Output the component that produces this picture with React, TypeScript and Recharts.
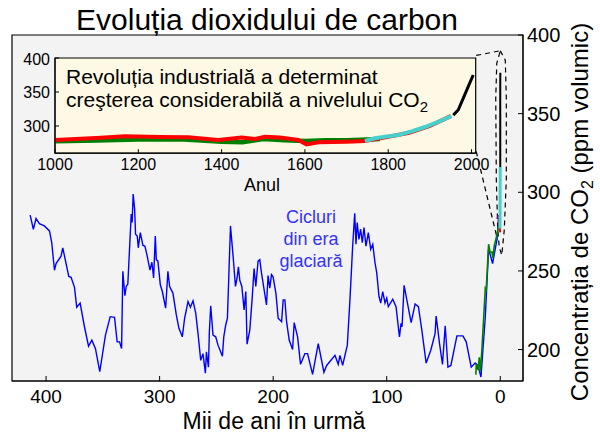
import { LineChart, Line, XAxis, YAxis, ReferenceArea } from "recharts";

const FONT = "'Liberation Sans', Arial, Helvetica, sans-serif";

// main chart: [mii de ani în urmă, ppm]
const vostok = [
  [414, 285.5], [411.2, 276.5], [408.8, 283.3], [405.9, 280], [401.5, 278.6], [397, 275.4],
  [395, 268], [392.6, 250.4], [391.2, 254.7], [386.8, 259.4], [385.3, 264.7], [380, 246.5],
  [378, 245.9], [375, 239.7], [373, 226.9], [370, 229.5], [366.2, 214.5], [362.6, 202.1],
  [359.7, 206], [356.5, 200.6], [352.7, 185.9], [347.7, 209.2], [343.5, 220.9], [339.7, 220.5],
  [337.4, 204.9], [335.3, 204.9], [333.5, 200.6], [332.4, 249.7], [330.6, 234.2], [329.4, 240.1],
  [328, 241.6], [325, 286.1], [324.2, 280.8], [323.3, 298.9], [322, 289.3], [321.2, 273.3],
  [319.7, 272.2], [318.8, 264.7], [317, 274.4], [314.7, 266.2], [313, 265.8], [311.2, 260.4],
  [308.5, 250.5], [306.8, 255.5], [305.3, 245.5], [303.8, 272.2], [302.9, 257.2], [301.5, 256.2],
  [299.4, 241.2], [297.6, 236.9], [294.7, 226.3], [292.7, 249.7], [291.2, 240.1], [288.3, 235.9],
  [285.3, 222], [283, 213.5], [280, 208.1], [278, 219.9], [275, 230.5], [272.9, 226.9],
  [270.6, 231], [268.2, 223.1], [266.2, 210.3], [263.8, 193.1], [261.8, 197.4], [259.7, 185],
  [258.8, 198.5], [257, 188.8], [256.2, 211.3], [255, 227.8], [253, 209.2], [250.6, 208.1],
  [248.6, 202.8], [244.7, 195.7], [243.5, 208.1], [241.8, 215.6], [240.3, 219.9], [237.6, 278.6],
  [235.3, 259.4], [233.2, 240.1], [231.8, 245.5], [230.6, 252.6], [229.4, 244], [227.6, 240.1],
  [225.6, 225.2], [224.1, 236.9], [223, 203.4], [220.6, 212.4], [218.6, 231.6], [216.8, 251.5],
  [215.3, 240.1], [213.3, 256.2], [211.8, 257.2], [210.3, 248.7], [208.2, 239.1], [205.9, 228.4],
  [204.5, 247], [203, 239.1], [201.5, 247.6], [200.1, 246.2], [197.6, 235.9], [195.6, 219.9],
  [192.6, 217.7], [191.2, 231.6], [189.7, 231.6], [188.2, 217.7], [185.9, 206], [182.9, 200],
  [181.5, 217.1], [178.5, 208.1], [175.9, 190.6], [172.1, 197.4], [169.7, 197.4], [165.3, 184.2],
  [160.3, 203.8], [155.3, 185.6], [152.9, 189.9], [145.6, 196.3], [142.7, 190.6], [141.2, 196.3],
  [138.8, 189.9], [136.8, 196.3], [134.7, 202.8], [132.4, 231.6], [130, 265.8], [128.2, 286.7],
  [127.1, 266.9], [126, 280.8], [124.5, 270], [123, 276.5], [121.5, 268], [120, 277.6],
  [118.3, 265.8], [116.2, 274.4], [114.1, 263.7], [112.3, 266.9], [110.3, 255.1], [108.8, 248.7],
  [106.8, 233.7], [105.3, 229.5], [103.5, 236.9], [101.5, 229.5], [100, 232.7], [98.6, 227.3],
  [94.7, 232], [91.8, 227.3], [88.8, 208.1], [87.4, 216.7], [86.5, 214.5], [84.7, 240.8],
  [82.3, 231.6], [78.5, 217.1], [75, 229], [72.1, 227.3], [69.1, 212.4], [65.3, 191.4],
  [61.2, 199.6], [57.4, 210.3], [56.5, 221.3], [53.5, 203.8], [50.9, 190.6], [48.5, 215.1],
  [46.1, 188.8], [43.5, 189.9], [38.2, 208.7], [32.9, 208.7], [30, 204.9], [25.6, 188.8],
  [22.1, 191.4], [19.7, 189.9], [17, 182.5], [13.2, 220.9], [10.3, 264.1], [6.8, 254.7],
  [2.9, 270], [1.5, 283.5],
];

const epica = [
  [21.5, 184], [21.2, 191], [19.5, 187], [18.5, 195], [17.5, 186], [16.2, 200], [14.5, 222],
  [13.2, 239], [12.4, 238], [11.5, 250], [10.3, 267], [9, 262], [7.3, 262], [6.5, 258],
  [5.3, 266], [2.9, 273], [1.1, 280],
];

const purpleBit = [[2.6, 283], [1.6, 285.5]];
const redBit = [[1.6, 282], [0.6, 279], [0.1, 274.5]];
const cyanRecent = [[0.25, 277], [0.05, 316]];
const blackRecent = [[0.05, 316], [0, 376]];

// zoom marker (dashed)
const zoomLoop = [
  [0, 390], [-4.4, 384], [-5.3, 360], [-5.3, 308], [-3.5, 276], [-1.3, 260], [0.9, 265],
  [2.2, 276], [3.5, 308], [4, 360], [3.1, 382], [0, 390],
];
const zoomTop = [[21.2, 387], [0, 390]];
const zoomBottom = [[21.2, 326], [2.5, 270]];

const ageTicks = [400, 300, 200, 100, 0];
const ppmTicks = [200, 250, 300, 350, 400];

// inset: [anul, ppm]
const lawDomeGreen = [
  [1000, 277.5], [1100, 278.5], [1200, 280], [1300, 280.5], [1400, 277], [1450, 276],
  [1500, 281], [1550, 279], [1600, 278], [1650, 279], [1700, 279], [1750, 280], [1780, 281],
];
const iceRed = [
  [1000, 279.5], [1050, 281], [1100, 282.5], [1168, 285], [1250, 284], [1320, 283.5],
  [1392, 279.5], [1448, 283], [1480, 281], [1504, 284], [1540, 283], [1584, 279.5],
  [1604, 273], [1632, 276], [1700, 277], [1744, 278], [1800, 284], [1850, 290],
  [1900, 300], [1950, 314.5],
];
const sipleCyan = [
  [1744, 278], [1768, 281.9], [1792, 284.3], [1824, 286.8], [1856, 292], [1888, 298.5],
  [1920, 306], [1952, 314.7],
];
const maunaLoa = [
  [1956, 316], [1968, 323.5], [1980, 340.7], [1992, 357.8], [2004, 375],
];

const yearTicks = [1000, 1200, 1400, 1600, 1800, 2000];
const insetPpmTicks = [300, 350, 400];

const pts = (pairs: number[][]) => pairs.map(([x, y]) => ({ x, y }));

export default function App() {
  return (
    <div
      style={{
        position: "absolute",
        left: 0,
        top: 0,
        width: 600,
        height: 440,
        background: "#fff",
        fontFamily: FONT,
      }}
    >
      <div style={{ position: "absolute", left: 0, top: 0 }}>
        <LineChart width={600} height={440} margin={{ top: 35, right: 17, bottom: 29, left: 12 }}>
          <XAxis
            type="number"
            dataKey="x"
            domain={[-20, 430]}
            reversed
            allowDataOverflow
            ticks={ageTicks}
            tickSize={-5}
            tickMargin={14}
            height={30}
            stroke="#000"
            tick={{ fill: "#000", fontSize: 19 }}
          />
          <YAxis
            orientation="right"
            type="number"
            domain={[180, 400]}
            allowDataOverflow
            ticks={ppmTicks}
            width={60}
            tickSize={-5}
            tickMargin={9}
            stroke="#000"
            tick={{ fill: "#000", fontSize: 20 }}
          />
          <ReferenceArea
            x1={-20}
            x2={430}
            y1={180}
            y2={400}
            fill="#f3f3f3"
            fillOpacity={1}
            stroke="#000"
            strokeWidth={1.2}
            ifOverflow="visible"
          />
          <Line data={pts(zoomTop)} dataKey="y" stroke="#000" strokeWidth={1.2} strokeDasharray="5 4" dot={false} isAnimationActive={false} />
          <Line data={pts(zoomBottom)} dataKey="y" stroke="#000" strokeWidth={1.2} strokeDasharray="5 4" dot={false} isAnimationActive={false} />
          <Line data={pts(zoomLoop)} dataKey="y" stroke="#000" strokeWidth={1.2} strokeDasharray="5 4" dot={false} isAnimationActive={false} />
          <Line data={pts(vostok)} dataKey="y" stroke="#0000ff" strokeWidth={1.4} dot={false} isAnimationActive={false} />
          <Line data={pts(epica)} dataKey="y" stroke="#008000" strokeWidth={1.6} dot={false} isAnimationActive={false} />
          <Line data={pts(purpleBit)} dataKey="y" stroke="#800080" strokeWidth={2} dot={false} isAnimationActive={false} />
          <Line data={pts(redBit)} dataKey="y" stroke="#ff0000" strokeWidth={2} dot={false} isAnimationActive={false} />
          <Line data={pts(cyanRecent)} dataKey="y" stroke="#48d1cc" strokeWidth={3} dot={false} isAnimationActive={false} />
          <Line data={pts(blackRecent)} dataKey="y" stroke="#000" strokeWidth={2} dot={false} isAnimationActive={false} />
        </LineChart>
      </div>

      <div style={{ position: "absolute", left: 10, top: 50 }}>
        <LineChart width={480} height={150} margin={{ top: 7, right: 13.3, bottom: 16.8, left: 5 }}>
          <XAxis
            type="number"
            dataKey="x"
            domain={[1000, 2010]}
            allowDataOverflow
            ticks={yearTicks}
            tickSize={-4}
            tickMargin={9}
            height={30}
            stroke="#000"
            tick={{ fill: "#000", fontSize: 16 }}
          />
          <XAxis
            xAxisId="top"
            orientation="top"
            type="number"
            domain={[1000, 2010]}
            allowDataOverflow
            ticks={yearTicks}
            tickSize={-4}
            height={1}
            axisLine={false}
            stroke="#000"
            tick={false}
          />
          <YAxis
            type="number"
            domain={[260, 400]}
            allowDataOverflow
            ticks={insetPpmTicks}
            width={40}
            tickSize={-4}
            tickMargin={9}
            stroke="#000"
            tick={{ fill: "#000", fontSize: 16 }}
          />
          <YAxis
            yAxisId="r"
            orientation="right"
            type="number"
            domain={[260, 400]}
            allowDataOverflow
            ticks={insetPpmTicks}
            width={1}
            tickSize={-4}
            axisLine={false}
            stroke="#000"
            tick={false}
          />
          <ReferenceArea
            x1={1000}
            x2={2010}
            y1={260}
            y2={400}
            fill="#fdf9e4"
            fillOpacity={1}
            stroke="#000"
            strokeWidth={1.2}
            ifOverflow="visible"
          />
          <Line data={pts(lawDomeGreen)} dataKey="y" stroke="#008000" strokeWidth={4.5} dot={false} isAnimationActive={false} />
          <Line data={pts(iceRed)} dataKey="y" stroke="#ff0000" strokeWidth={4} dot={false} isAnimationActive={false} />
          <Line data={pts(sipleCyan)} dataKey="y" stroke="#48d1cc" strokeWidth={4} dot={false} isAnimationActive={false} />
          <Line data={pts(maunaLoa)} dataKey="y" stroke="#000" strokeWidth={3} dot={false} isAnimationActive={false} />
        </LineChart>
      </div>

      <svg
        width={600}
        height={440}
        style={{ position: "absolute", left: 0, top: 0, pointerEvents: "none" }}
      >
        <text x={267} y={30} textAnchor="middle" fontSize={30} fill="#000">
          Evoluția dioxidului de carbon
        </text>
        <text x={274} y={428.5} textAnchor="middle" fontSize={23} fill="#000">
          Mii de ani în urmă
        </text>
        <text
          x={588}
          y={212}
          textAnchor="middle"
          fontSize={24}
          fill="#000"
          transform="rotate(-90 588 212)"
        >
          Concentrația de CO
          <tspan dy={5} fontSize={16}>2</tspan>
          <tspan dy={-5}> (ppm volumic)</tspan>
        </text>
        <text x={262} y={191} textAnchor="middle" fontSize={18} fill="#000">
          Anul
        </text>
        <text x={66} y={84} fontSize={21} fill="#000">
          Revoluția industrială a determinat
        </text>
        <text x={66} y={107} fontSize={21} fill="#000">
          creşterea considerabilă a nivelului CO
          <tspan dy={5} fontSize={15}>2</tspan>
        </text>
        <text textAnchor="middle" fontSize={18} fill="#3333ff">
          <tspan x={311} y={223}>Cicluri</tspan>
          <tspan x={311} y={245}>din era</tspan>
          <tspan x={311} y={267}>glaciară</tspan>
        </text>
      </svg>
    </div>
  );
}
